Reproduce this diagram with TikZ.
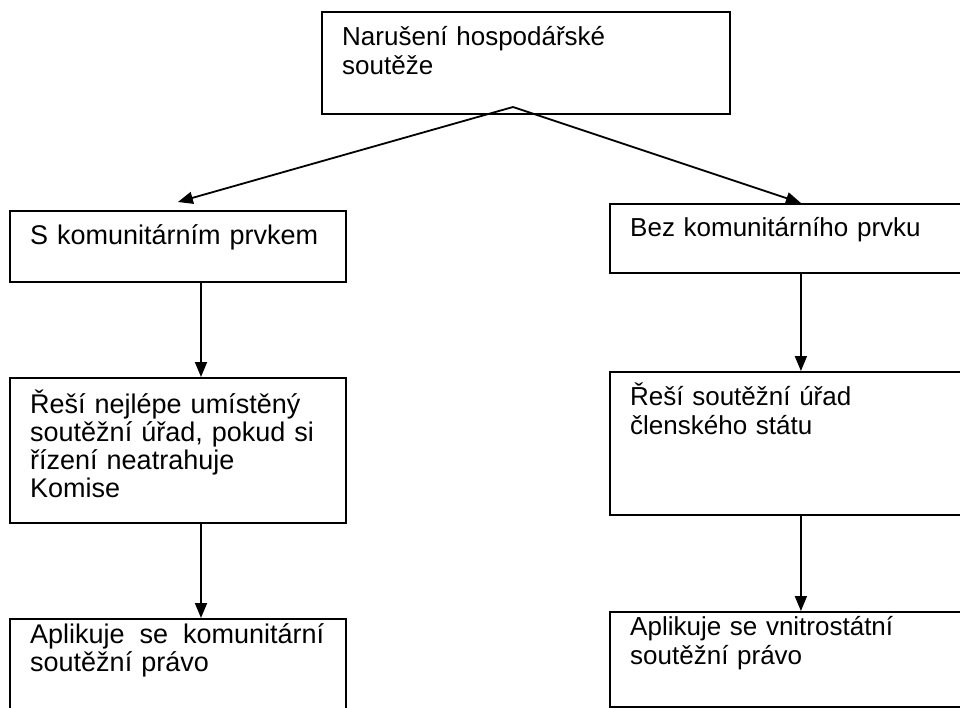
\documentclass[tikz,border=0pt]{standalone}
\usepackage{fontspec}
\setmainfont{Liberation Sans}
\usetikzlibrary{arrows.meta}

\begin{document}
\begin{tikzpicture}[x=1pt, y=-1pt, line join=miter,
    box/.style={draw, line width=1.8pt, inner sep=0pt, anchor=north west},
    txt/.style={anchor=base west, inner sep=0pt, align=left, text width=#1,
                font=\fontsize{26}{29}\selectfont},
    ltxt/.style={txt=#1, font=\fontsize{27}{28}\selectfont},
    arr/.style={-{Triangle[length=15pt,width=12pt]}, line width=1.8pt}]

          % Page frame (pixels, y going down)
          \useasboundingbox (0,0) rectangle (960,708);
          \clip (0,0) rectangle (960,708);

          % Boxes
          \node[box, minimum width=408pt, minimum height=102pt] (narus) at (321,11) {};
          \node[box, minimum width=336pt, minimum height=71pt]  (sKom) at (9,210) {};
          \node[box, minimum width=382pt, minimum height=69pt]  (bezKom) at (609,203) {};
          \node[box, minimum width=336pt, minimum height=145pt] (sResi) at (9,377) {};
          \node[box, minimum width=382pt, minimum height=143pt] (bezResi) at (609,371) {};
          \node[box, minimum width=336pt, minimum height=102pt] (sPravo) at (9,618) {};
          \node[box, minimum width=382pt, minimum height=95pt]  (bezPravo) at (609,611) {};

          % Texts in the boxes
          \node[txt=380pt] (narusT) at (342,46) {Narušení hospodářské\\soutěže};
          \node[ltxt=305pt] (sKomT) at (30,245) {S komunitárním prvkem};
          \node[txt=320pt] (bezKomT) at (630,237) {Bez komunitárního prvku};
          \node[ltxt=305pt] (sResiT) at (30,413) {Řeší nejlépe umístěný\\soutěžní úřad, pokud si\\řízení neatrahuje\\Komise};
          \node[txt=320pt] (bezResiT) at (630,405) {Řeší soutěžní úřad\\členského státu};
          \node[ltxt=294pt] (sPravoT) at (30,643) {Aplikuje\hfill se\hfill komunitární\\soutěžní právo};
          \node[txt=320pt] (bezPravoT) at (630,635) {Aplikuje se vnitrostátní\\soutěžní právo};

          % Split point and left column of arrows
          \coordinate (apex) at (513,107);
          \coordinate (lcol) at (201,0);

          % Arrows
          \draw[arr] (apex) -- ([yshift=8pt]sKom.north);
          \draw[arr] (apex) -- (bezKom.north);
          \draw[arr] (sKom.south -| lcol) -- (sResi.north -| lcol);
          \draw[arr] (sResi.south -| lcol) -- (sPravo.north -| lcol);
          \draw[arr] (bezKom.south) -- (bezResi.north);
          \draw[arr] (bezResi.south) -- (bezPravo.north);
        \end{tikzpicture}
\end{document}
